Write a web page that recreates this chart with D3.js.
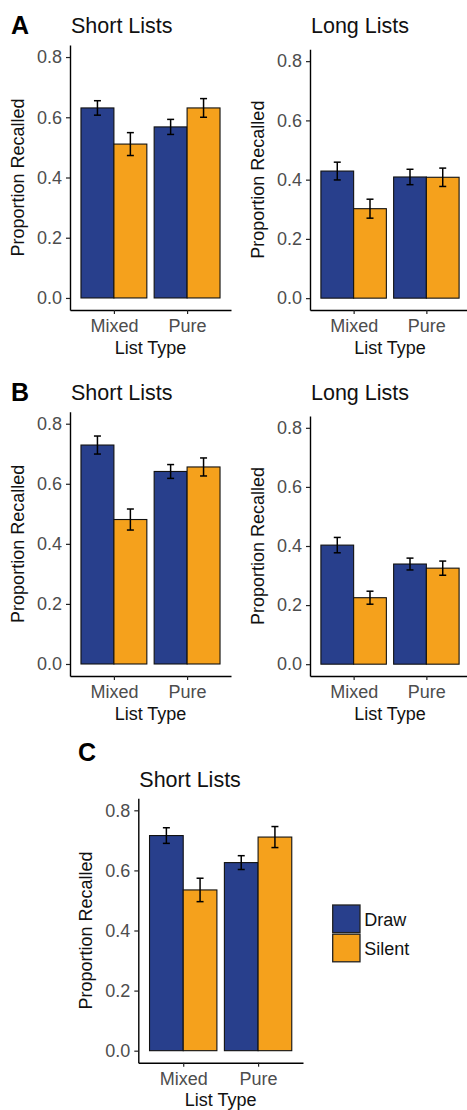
<!DOCTYPE html>
<html>
<head>
<meta charset="utf-8">
<script src="https://cdn.jsdelivr.net/npm/d3@7"></script>
<style>
	body { margin: 0; background: #fff; }
	svg { display: block; font-family: "Liberation Sans", Arial, sans-serif; }
</style>
</head>
<body>
<div id="chart"></div>
<script>
// list types and conditions
var categories = ['Mixed', 'Pure'];
var series = ['Draw', 'Silent'];
var yTicks = [0, 0.2, 0.4, 0.6, 0.8];
var yTickLabels = ['0.0', '0.2', '0.4', '0.6', '0.8'];

// proportion recalled (Mixed, Pure) and error bar half widths
var aShortDraw = [0.631, 0.568], aShortDrawErr = [0.024, 0.025];
var aShortSilent = [0.511, 0.631], aShortSilentErr = [0.038, 0.031];
var aLongDraw = [0.429, 0.409], aLongDrawErr = [0.030, 0.026];
var aLongSilent = [0.302, 0.408], aLongSilentErr = [0.032, 0.031];
var bShortDraw = [0.729, 0.641], bShortDrawErr = [0.030, 0.023];
var bShortSilent = [0.481, 0.656], bShortSilentErr = [0.035, 0.030];
var bLongDraw = [0.403, 0.339], bLongDrawErr = [0.026, 0.020];
var bLongSilent = [0.225, 0.325], bLongSilentErr = [0.022, 0.024];
var cShortDraw = [0.716, 0.626], cShortDrawErr = [0.026, 0.023];
var cShortSilent = [0.535, 0.711], cShortSilentErr = [0.039, 0.035];

var colors = { Draw: '#283f8c', Silent: '#f5a11c' };
var font = '"Liberation Sans", Arial, sans-serif';

var svg = d3.select('#chart').append('svg')
	.attr('width', 467)
	.attr('height', 1110);

svg.append('rect').attr('width', 467).attr('height', 1110).attr('fill', '#fff');

function panel(p) {
	var g = svg.append('g');

	var x = d3.scalePoint()
		.domain(categories)
		.range([p.left, p.right])
		.padding(0.6);
	var step = x.step();
	var xs = d3.scaleBand()
		.domain(series)
		.range([-0.45 * step, 0.45 * step]);

	var y = d3.scaleLinear()
		.domain([-0.04, 0.84])
		.range([p.bottom, p.top]);

	var rows = [];
	categories.forEach(function(c, i) {
		rows.push({ cat: c, s: 'Draw', v: p.draw[i], e: p.drawErr[i] });
		rows.push({ cat: c, s: 'Silent', v: p.silent[i], e: p.silentErr[i] });
	});

	// bars
	g.selectAll('rect.bar')
		.data(rows)
		.enter()
		.append('rect')
		.attr('class', 'bar')
		.attr('x', function(d) { return x(d.cat) + xs(d.s); })
		.attr('width', xs.bandwidth())
		.attr('y', function(d) { return y(d.v); })
		.attr('height', function(d) { return y(0) - y(d.v); })
		.attr('fill', function(d) { return colors[d.s]; })
		.attr('stroke', '#111')
		.attr('stroke-width', 1.1);

	// error bars
	var eb = g.selectAll('g.err')
		.data(rows)
		.enter()
		.append('g')
		.attr('class', 'err')
		.attr('stroke', '#000')
		.attr('stroke-width', 1.5);
	var cx = function(d) { return x(d.cat) + xs(d.s) + xs.bandwidth() / 2; };
	eb.append('line')
		.attr('x1', cx).attr('x2', cx)
		.attr('y1', function(d) { return y(d.v + d.e); })
		.attr('y2', function(d) { return y(d.v - d.e); });
	eb.append('line')
		.attr('x1', function(d) { return cx(d) - 3.5; })
		.attr('x2', function(d) { return cx(d) + 3.5; })
		.attr('y1', function(d) { return y(d.v + d.e); })
		.attr('y2', function(d) { return y(d.v + d.e); });
	eb.append('line')
		.attr('x1', function(d) { return cx(d) - 3.5; })
		.attr('x2', function(d) { return cx(d) + 3.5; })
		.attr('y1', function(d) { return y(d.v - d.e); })
		.attr('y2', function(d) { return y(d.v - d.e); });

	// axes
	var yAxis = d3.axisLeft(y)
		.tickValues(yTicks)
		.tickFormat(function(d, i) { return yTickLabels[i]; })
		.tickSize(4)
		.tickSizeOuter(0)
		.tickPadding(4);
	var ya = g.append('g')
		.attr('transform', 'translate(' + p.left + ',0)')
		.call(yAxis);

	var xAxis = d3.axisBottom(x)
		.tickSize(4)
		.tickSizeOuter(0)
		.tickPadding(5);
	var xa = g.append('g')
		.attr('transform', 'translate(0,' + p.bottom + ')')
		.call(xAxis);

	[ya, xa].forEach(function(a) {
		a.select('.domain').attr('stroke', '#000').attr('stroke-width', 1.4);
		a.selectAll('.tick line').attr('stroke', '#222').attr('stroke-width', 1.2);
		a.selectAll('.tick text')
			.attr('fill', '#4d4d4d')
			.style('font-family', font)
			.style('font-size', '18px');
	});
	xa.selectAll('.tick text').attr('dy', null).attr('y', 22);

	// titles
	g.append('text')
		.attr('x', p.left + 1)
		.attr('y', p.titleY)
		.attr('font-size', 21.5)
		.attr('fill', '#111')
		.text(p.title);

	g.append('text')
		.attr('transform', 'translate(' + (p.left - 46) + ',' + ((p.top + p.bottom) / 2) + ') rotate(-90)')
		.attr('text-anchor', 'middle')
		.attr('font-size', 18)
		.attr('fill', '#111')
		.text('Proportion Recalled');

	g.append('text')
		.attr('x', (p.left + p.right) / 2)
		.attr('y', p.bottom + 43.5)
		.attr('text-anchor', 'middle')
		.attr('font-size', 18)
		.attr('fill', '#111')
		.text('List Type');
}

panel({ left: 70, right: 231, top: 45, bottom: 310, titleY: 33, title: 'Short Lists',
	draw: aShortDraw, drawErr: aShortDrawErr, silent: aShortSilent, silentErr: aShortSilentErr });
panel({ left: 310, right: 470, top: 49.3, bottom: 310, titleY: 33, title: 'Long Lists',
	draw: aLongDraw, drawErr: aLongDrawErr, silent: aLongSilent, silentErr: aLongSilentErr });
panel({ left: 70, right: 231, top: 411.7, bottom: 676, titleY: 399.5, title: 'Short Lists',
	draw: bShortDraw, drawErr: bShortDrawErr, silent: bShortSilent, silentErr: bShortSilentErr });
panel({ left: 310, right: 470, top: 416, bottom: 676, titleY: 400, title: 'Long Lists',
	draw: bLongDraw, drawErr: bLongDrawErr, silent: bLongSilent, silentErr: bLongSilentErr });
panel({ left: 138.3, right: 303, top: 798.3, bottom: 1062.7, titleY: 786.5, title: 'Short Lists',
	draw: cShortDraw, drawErr: cShortDrawErr, silent: cShortSilent, silentErr: cShortSilentErr });

// panel letters
var letters = [['A', 11, 33.5], ['B', 11, 400.5], ['C', 78, 761]];
svg.selectAll('text.letter')
	.data(letters)
	.enter()
	.append('text')
	.attr('class', 'letter')
	.attr('x', function(d) { return d[1]; })
	.attr('y', function(d) { return d[2]; })
	.attr('font-size', 25)
	.attr('font-weight', 'bold')
	.attr('fill', '#000')
	.text(function(d) { return d[0]; });

// legend
var legend = svg.append('g').attr('transform', 'translate(332.7,905)');
var lg = legend.selectAll('g')
	.data(series)
	.enter()
	.append('g')
	.attr('transform', function(d, i) { return 'translate(0,' + (i * 29.2) + ')'; });
lg.append('rect')
	.attr('width', 27.3)
	.attr('height', 27.6)
	.attr('fill', function(d) { return colors[d]; })
	.attr('stroke', '#222')
	.attr('stroke-width', 1.3);
lg.append('text')
	.attr('x', 31.6)
	.attr('y', 21)
	.attr('font-size', 18)
	.attr('fill', '#111')
	.text(function(d) { return d; });
</script>
</body>
</html>
